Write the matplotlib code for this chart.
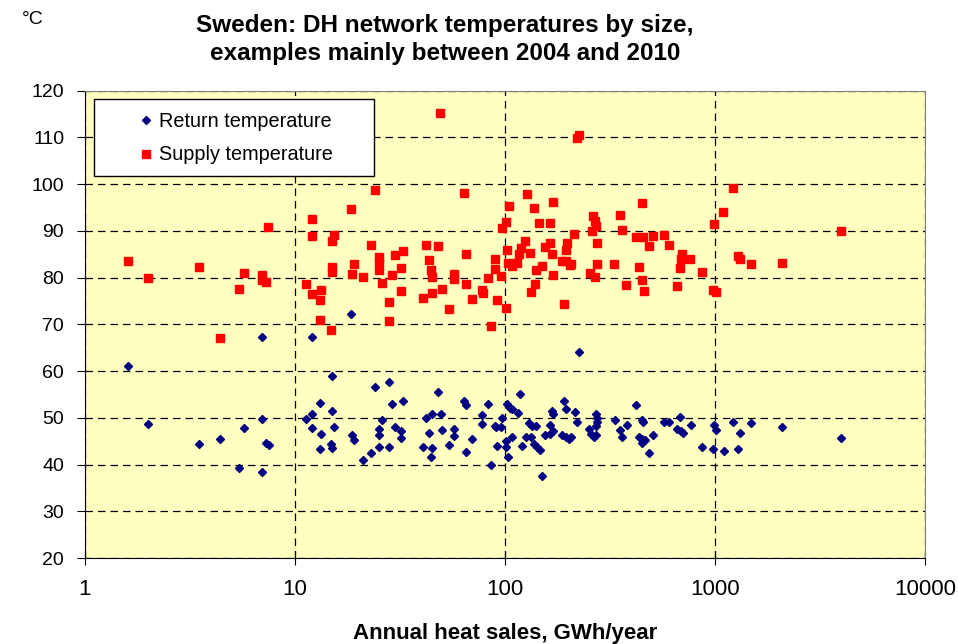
import matplotlib
matplotlib.use("Agg")
import matplotlib.pyplot as plt
from matplotlib.patches import Rectangle
from matplotlib.ticker import FixedLocator, FixedFormatter, NullLocator

plt.rcParams['font.family'] = ['Liberation Sans', 'DejaVu Sans']

# annual heat sales (GWh/year) and temperatures (degC)
supply_gwh = [1.6, 2.0, 3.5, 5.7, 5.4, 7.0, 7.0, 7.3, 7.47, 4.4,
              48.9, 24.0, 63.8, 18.4, 12.0, 12.0, 15.3, 15.0, 22.9, 41.9, 48.2, 65.0, 25.0, 25.0,
              29.9, 32.6, 43.5, 90, 15.0, 15.0, 19.0, 25.0, 32.1, 44.2, 45.1, 90, 18.7, 21.0,
              28.9, 57, 57, 83, 96, 11.3, 26.1, 65, 12.0, 13.3, 13.1, 32.1, 50.1, 44.7, 40.9,
              77.4, 78.6, 69.9, 92, 27.9, 54, 101.5, 13.1, 27.9, 14.8, 85.8, 105, 101.5, 97,
              102.6, 103, 108,
              221, 226, 127, 169.5, 449, 137, 351, 262, 268, 271, 260, 145, 163, 359, 214, 419,
              456, 505, 572, 989, 1096, 1213, 124.6, 119, 117, 131, 164, 154.5, 168, 198, 196,
              275, 487, 602, 114, 140, 150, 186, 196, 206, 203, 273, 332, 435, 700, 687, 679,
              760, 871, 253, 268, 169.5, 139, 133, 377, 449, 459, 662, 975, 1011, 190,
              1292, 1312, 1479, 2078, 4000]
supply_temp = [83.5, 80.0, 82.2, 81.0, 77.6, 80.5, 79.4, 79.1, 90.9, 67.0,
               115.2, 98.8, 98.2, 94.6, 92.5, 89.0, 89.1, 87.9, 87.0, 87.0, 86.8, 85.0, 84.4, 83.4,
               84.9, 85.6, 83.7, 83.9, 82.3, 81.2, 82.8, 81.6, 82.0, 81.6, 80.2, 81.8, 80.7, 80.2,
               80.6, 80.7, 79.7, 80.0, 80.4, 78.6, 78.9, 78.7, 76.4, 77.3, 75.3, 77.1, 77.6, 76.6, 75.7,
               77.3, 76.6, 75.5, 75.3, 74.7, 73.2, 73.5, 70.9, 70.7, 68.7, 69.6, 95.3, 91.8, 90.6,
               85.9, 83.2, 82.5,
               109.9, 110.5, 97.9, 96.1, 96.0, 94.9, 93.4, 93.1, 92.1, 91.1, 89.9, 91.6, 91.6, 90.2, 89.3, 88.7,
               88.7, 89.0, 89.2, 91.4, 94.1, 99.1, 87.9, 86.4, 85.0, 85.3, 87.4, 86.6, 85.0, 87.4, 86.0,
               87.4, 86.7, 86.9, 83.2, 81.7, 82.4, 83.5, 83.6, 83.0, 82.6, 82.8, 83.0, 82.2, 85.1, 83.9, 82.1,
               84.0, 81.2, 81.0, 80.2, 80.6, 78.7, 76.9, 78.4, 79.4, 77.2, 78.2, 77.4, 76.9, 74.3,
               84.6, 83.9, 83.0, 83.2, 89.9]

return_gwh = [7.0, 1.6, 2.0, 3.5, 4.4, 5.7, 7.0, 7.3, 7.5, 5.4, 7.0,
              18.4, 12.0, 15.0, 24.0, 27.9, 48.2, 13.1, 15.0, 28.9, 32.6, 63.8, 65, 83, 11.3, 12.0,
              12.0, 13.3, 15.3, 13.1, 14.8, 15.0, 18.7, 19.0, 21.0, 22.9, 25.0, 25, 25, 26.1, 27.9,
              29.9, 32.1, 32.1, 40.9, 41.9, 44.7, 43.5, 45.1, 44.2, 49.3, 50.1, 57, 57, 54, 65, 69.9,
              77.4, 78, 89.6, 91, 96, 96.8, 92, 85.8, 101.5, 101.5, 103, 102.6, 105.6,
              225, 117.5, 108, 115, 108, 120, 125.5, 132.5, 130, 135, 140, 137, 141.5, 146, 150, 155,
              163, 164, 169.5, 168, 170, 190, 196, 215, 186, 196, 202, 206, 220, 252, 257.5, 265.5,
              270, 272, 273, 273, 271, 333, 351, 361, 379, 422, 451, 456, 436, 451, 464, 451, 508,
              487, 572, 604, 680, 662, 687, 701, 766, 871, 980, 990, 1010,
              1099, 1218, 1312, 1292, 1479, 2078, 4000]
return_temp = [67.2, 61.1, 48.7, 44.3, 45.5, 47.8, 49.8, 44.6, 44.2, 39.3, 38.4,
               72.2, 67.3, 59.0, 56.5, 57.7, 55.6, 53.1, 51.5, 53.0, 53.7, 53.7, 52.7, 52.9, 49.7, 50.8,
               47.8, 46.5, 48.1, 43.3, 44.3, 43.6, 46.3, 45.2, 40.9, 42.4, 43.7, 47.6, 46.3, 49.5, 43.7,
               48.0, 47.1, 45.7, 43.7, 49.9, 50.8, 46.8, 43.5, 41.7, 50.9, 47.3, 47.5, 46.1, 44.1, 42.7, 45.5,
               50.5, 48.6, 48.2, 48.0, 48.1, 50.0, 44.0, 39.9, 45.1, 43.7, 41.7, 53.0, 52.2,
               64.0, 55.1, 51.9, 51.0, 45.9, 44.0, 45.8, 45.9, 48.8, 48.3, 48.3, 44.3, 43.7, 43.1, 37.5, 46.3,
               48.4, 46.6, 47.2, 51.5, 50.9, 53.5, 51.9, 51.2, 46.3, 45.9, 45.5, 45.8, 49.0, 47.5, 46.6, 45.9,
               46.3, 50.9, 50.0, 49.1, 48.2, 49.5, 47.3, 45.9, 48.5, 52.7, 49.5, 49.0, 45.9, 45.5, 45.3, 44.6, 46.4,
               42.5, 49.0, 49.0, 50.1, 47.5, 47.2, 46.8, 48.4, 43.7, 43.3, 48.5, 47.3,
               42.9, 49.1, 46.7, 43.3, 48.8, 48.0, 45.6]

x_ticks = [1, 10, 100, 1000, 10000]
x_labels = ['1', '10', '100', '1000', '10000']
y_ticks = list(range(20, 121, 10))

fig = plt.figure(figsize=(9.58, 6.44), dpi=100)
ax = fig.add_axes([0.0887, 0.1335, 0.8769, 0.7258])
ax.set_facecolor('#FFFFC0')

ax.plot(return_gwh, return_temp, 'D', color='#000080', ms=3.6, mec='#000080',
        label='Return temperature', zorder=3)
ax.plot(supply_gwh, supply_temp, 's', color='#FF0000', ms=5.3, mec='#FF0000',
        label='Supply temperature', zorder=3)

ax.set_xscale('log')
ax.set_xlim(1, 10000)
ax.set_ylim(20, 120)
ax.xaxis.set_major_locator(FixedLocator(x_ticks))
ax.xaxis.set_major_formatter(FixedFormatter(x_labels))
ax.xaxis.set_minor_locator(NullLocator())
ax.set_yticks(y_ticks)
ax.tick_params(axis='x', labelsize=16, direction='inout', length=9.5, pad=10, color='black')
ax.tick_params(axis='y', labelsize=14, direction='out', length=6, pad=9, color='black')

ax.grid(True, color='black', linestyle=(0, (6, 4)), linewidth=0.9)
ax.set_axisbelow(True)
ax.spines['top'].set_color('#808080')
ax.spines['right'].set_color('#808080')
ax.spines['left'].set_color('black')
ax.spines['bottom'].set_color('black')

# legend box (Excel style, wider than its content)
box = Rectangle((0.0111, 0.818), 0.3333, 0.163, transform=ax.transAxes,
                facecolor='white', edgecolor='black', linewidth=1.0, zorder=5)
ax.add_patch(box)
leg = ax.legend(loc='center left', bbox_to_anchor=(0.0604, 0.8986), borderaxespad=0,
                borderpad=0, fontsize=14.3, frameon=False, labelspacing=0.75,
                handletextpad=0.15, handlelength=1.0)
leg.set_zorder(6)

fig.text(0.4645, 0.939, 'Sweden: DH network temperatures by size,\nexamples mainly between 2004 and 2010',
         ha='center', va='center', fontsize=17.5, fontweight='bold', linespacing=1.3)
fig.text(0.023, 0.969, '°C', ha='left', va='center', fontsize=14)
fig.text(0.527, 0.0075, 'Annual heat sales, GWh/year', ha='center', va='baseline',
         fontsize=16, fontweight='bold')

fig.savefig('out.png', dpi=100)
